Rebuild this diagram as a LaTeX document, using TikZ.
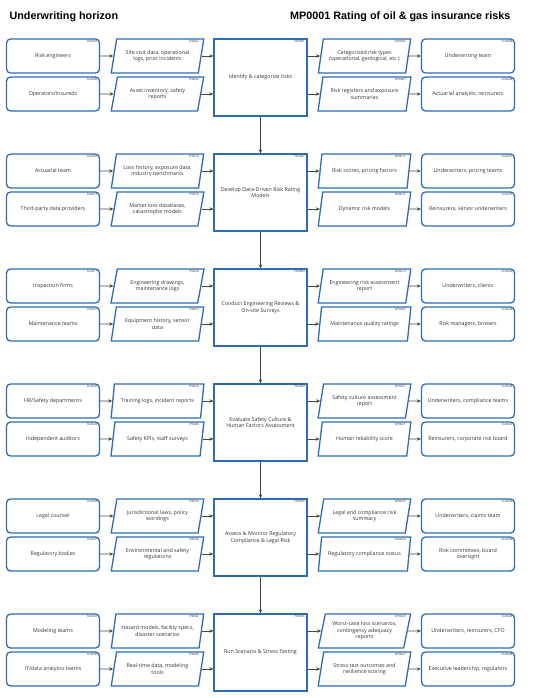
\documentclass[tikz,border=0pt]{standalone}
\usepackage{fontspec}
\setmainfont{Open Sans}
\newfontfamily\titlefont{Liberation Sans}
\usetikzlibrary{positioning, shapes.geometric, arrows.meta}

\begin{document}
\begin{tikzpicture}[x=1pt, y=-1pt,
  box/.style={draw=boxblue, line width=1.3pt, fill=white, text=textgray, align=center,
    font=\fontsize{5.3}{6.4}\selectfont},
  party/.style={box, rounded corners=4pt, minimum width=93pt, minimum height=34pt},
  flow/.style={box, trapezium, trapezium left angle=77, trapezium right angle=103,
    trapezium stretches=true, minimum width=93pt, minimum height=34pt, inner xsep=0pt},
  proc/.style={box, minimum width=93pt, minimum height=77pt},
  idtag/.style={font=\fontsize{3}{3}\selectfont, text=textgray, inner sep=1.5pt, anchor=north east},
  id/.style={append after command={node[idtag] at ([xshift=-1pt, yshift=-0.5pt]\tikzlastnode.north east) {#1}}},
  flowid/.style={append after command={node[idtag] at ([xshift=-4pt, yshift=-0.5pt]\tikzlastnode.top right corner) {#1}}},
  link/.style={draw=arrowgray, line width=0.8pt, -{Stealth[length=4pt, width=3.5pt]}}
]

% Define colors
\definecolor{boxblue}{RGB}{46, 108, 178}
\definecolor{textgray}{RGB}{50, 50, 50}
\definecolor{arrowgray}{RGB}{70, 70, 70}

\useasboundingbox (0, 0) rectangle (541, 698);

% Titles
\node[anchor=west, font=\titlefont\bfseries\fontsize{10.8}{13}\selectfont] (horizon) at (6, 17) {Underwriting horizon};
\node[anchor=east, font=\titlefont\bfseries\fontsize{10.8}{13}\selectfont] (mapname) at (514, 17) {MP0001 Rating of oil \& gas insurance risks};

% Block 1
\node[proc, id=PR0001] (proc1) at (260.5, 77.5) {Identify \& categorize risks};
\node[party, id=SU0001] (sup1a) at (53, 56) {Risk engineers};
\node[flow, flowid=IP0002] (inp1a) at (157.5, 56) {Site visit data, operational\\logs, prior incidents};
\node[flow, flowid=OP0003] (out1a) at (364.5, 56) {Categorized risk types\\(operational, geological, etc.)};
\node[party, id=CU0004] (cus1a) at (468, 56) {Underwriting team};
\node[party, id=SU0005] (sup1b) at (53, 94) {Operators/Insureds};
\node[flow, flowid=IP0006] (inp1b) at (157.5, 94) {Asset inventory, safety\\reports};
\node[flow, flowid=OP0007] (out1b) at (364.5, 94) {Risk registers and exposure\\summaries};
\node[party, id=CU0008] (cus1b) at (468, 94) {Actuarial analysts, reinsurers};

% Block 2
\node[proc, id=PR0002] (proc2) at (260.5, 192.5) {Develop Data-Driven Risk Rating\\Models};
\node[party, id=SU0009] (sup2a) at (53, 171) {Actuarial team};
\node[flow, flowid=IP0010] (inp2a) at (157.5, 171) {Loss history, exposure data,\\industry benchmarks};
\node[flow, flowid=OP0011] (out2a) at (364.5, 171) {Risk scores, pricing factors};
\node[party, id=CU0012] (cus2a) at (468, 171) {Underwriters, pricing teams};
\node[party, id=SU0013] (sup2b) at (53, 209) {Third-party data providers};
\node[flow, flowid=IP0014] (inp2b) at (157.5, 209) {Market loss databases,\\catastrophe models};
\node[flow, flowid=OP0015] (out2b) at (364.5, 209) {Dynamic risk models};
\node[party, id=CU0016] (cus2b) at (468, 209) {Reinsurers, senior underwriters};

% Block 3
\node[proc, id=PR0003] (proc3) at (260.5, 307.5) {Conduct Engineering Reviews \&\\On-site Surveys};
\node[party, id=SU0017] (sup3a) at (53, 286) {Inspection firms};
\node[flow, flowid=IP0018] (inp3a) at (157.5, 286) {Engineering drawings,\\maintenance logs};
\node[flow, flowid=OP0019] (out3a) at (364.5, 286) {Engineering risk assessment\\report};
\node[party, id=CU0020] (cus3a) at (468, 286) {Underwriters, clients};
\node[party, id=SU0021] (sup3b) at (53, 324) {Maintenance teams};
\node[flow, flowid=IP0022] (inp3b) at (157.5, 324) {Equipment history, sensor\\data};
\node[flow, flowid=OP0023] (out3b) at (364.5, 324) {Maintenance quality ratings};
\node[party, id=CU0024] (cus3b) at (468, 324) {Risk managers, brokers};

% Block 4
\node[proc, id=PR0004] (proc4) at (260.5, 422.5) {Evaluate Safety Culture \&\\Human Factors Assessment};
\node[party, id=SU0025] (sup4a) at (53, 401) {HR/Safety departments};
\node[flow, flowid=IP0026] (inp4a) at (157.5, 401) {Training logs, incident reports};
\node[flow, flowid=OP0027] (out4a) at (364.5, 401) {Safety culture assessment\\report};
\node[party, id=CU0028] (cus4a) at (468, 401) {Underwriters, compliance teams};
\node[party, id=SU0029] (sup4b) at (53, 439) {Independent auditors};
\node[flow, flowid=IP0030] (inp4b) at (157.5, 439) {Safety KPIs, staff surveys};
\node[flow, flowid=OP0031] (out4b) at (364.5, 439) {Human reliability score};
\node[party, id=CU0032] (cus4b) at (468, 439) {Reinsurers, corporate risk board};

% Block 5
\node[proc, id=PR0005] (proc5) at (260.5, 537.5) {Assess \& Monitor Regulatory\\Compliance \& Legal Risk};
\node[party, id=SU0033] (sup5a) at (53, 516) {Legal counsel};
\node[flow, flowid=IP0034] (inp5a) at (157.5, 516) {Jurisdictional laws, policy\\wordings};
\node[flow, flowid=OP0035] (out5a) at (364.5, 516) {Legal and compliance risk\\summary};
\node[party, id=CU0036] (cus5a) at (468, 516) {Underwriters, claims team};
\node[party, id=SU0037] (sup5b) at (53, 554) {Regulatory bodies};
\node[flow, flowid=IP0038] (inp5b) at (157.5, 554) {Environmental and safety\\regulations};
\node[flow, flowid=OP0039] (out5b) at (364.5, 554) {Regulatory compliance status};
\node[party, id=CU0040] (cus5b) at (468, 554) {Risk committees, board\\oversight};

% Block 6
\node[proc, id=PR0006] (proc6) at (260.5, 652.5) {Run Scenario \& Stress Testing};
\node[party, id=SU0041] (sup6a) at (53, 631) {Modeling teams};
\node[flow, flowid=IP0042] (inp6a) at (157.5, 631) {Hazard models, facility specs,\\disaster scenarios};
\node[flow, flowid=OP0043] (out6a) at (364.5, 631) {Worst-case loss scenarios,\\contingency adequacy\\reports};
\node[party, id=CU0044] (cus6a) at (468, 631) {Underwriters, reinsurers, CFO};
\node[party, id=SU0045] (sup6b) at (53, 669) {IT/data analytics teams};
\node[flow, flowid=IP0046] (inp6b) at (157.5, 669) {Real-time data, modeling\\tools};
\node[flow, flowid=OP0047] (out6b) at (364.5, 669) {Stress test outcomes and\\resilience scoring};
\node[party, id=CU0048] (cus6b) at (468, 669) {Executive leadership, regulators};

% Horizontal arrows
\foreach \b in {1,...,6} {
  \foreach \r in {a,b} {
    \draw[link] (sup\b\r.east) -- (inp\b\r.west);
    \draw[link] (inp\b\r.east) -- (inp\b\r.east -| proc\b.west);
    \draw[link] (proc\b.east |- out\b\r.west) -- (out\b\r.west);
    \draw[link] (out\b\r.east) -- (cus\b\r.west);
  }
}

% Vertical arrows between the steps
\draw[link] (proc1.south) -- (proc2.north);
\draw[link] (proc2.south) -- (proc3.north);
\draw[link] (proc3.south) -- (proc4.north);
\draw[link] (proc4.south) -- (proc5.north);
\draw[link] (proc5.south) -- (proc6.north);

\end{tikzpicture}
\end{document}
